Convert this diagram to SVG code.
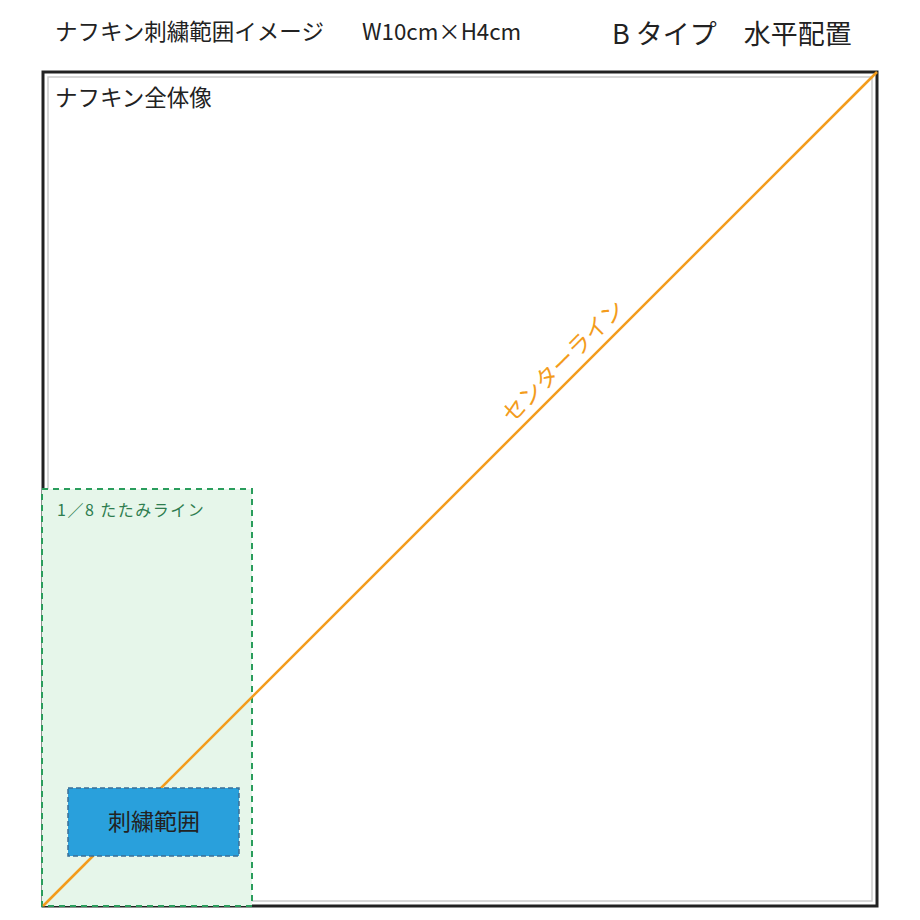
<svg xmlns="http://www.w3.org/2000/svg" width="920" height="920" viewBox="0 0 920 920">
<style>
.t{font-family:"Noto Sans CJK JP","Noto Sans",sans-serif;fill:#222}
</style>
<rect width="920" height="920" fill="#fff"/>
<g id="title">
<text class="t" x="55" y="40" font-size="22.5">ナフキン刺繍範囲イメージ</text>
<text class="t" x="362" y="40" font-size="22.3">W10cm×H4cm</text>
<text class="t" x="612" y="44" font-size="27">B タイプ　水平配置</text>
</g>
<g id="napkin">
<rect x="43" y="72" width="834" height="834" fill="#fff" stroke="#222" stroke-width="3"/>
<rect x="48" y="77" width="824" height="824" fill="none" stroke="#ccc" stroke-width="1.5"/>
<text class="t" x="55" y="106" font-size="22.5">ナフキン全体像</text>
</g>
<g id="fold">
<rect x="42" y="489" width="210" height="417" fill="#e6f6ea" stroke="#2a9d5c" stroke-width="2" stroke-dasharray="6,5"/>
<text class="t" x="57" y="516" font-size="16" letter-spacing="1.5" style="fill:#2e7d4f">1／8 たたみライン</text>
</g>
<g id="connectors">
<line x1="43" y1="906" x2="877" y2="72" stroke="#f39c1c" stroke-width="2.5"/>
</g>
<g id="center-label">
<text class="t" x="0" y="0" font-size="23" style="fill:#f39c1c" text-anchor="middle" transform="translate(569,367) rotate(-45)">センターライン</text>
</g>
<g id="embroidery">
<rect x="68" y="788" width="171" height="68" fill="#29a0dc" stroke="#3a6f96" stroke-width="1.5" stroke-dasharray="5,3"/>
<text class="t" x="154" y="830" font-size="23" text-anchor="middle">刺繍範囲</text>
</g>
</svg>
